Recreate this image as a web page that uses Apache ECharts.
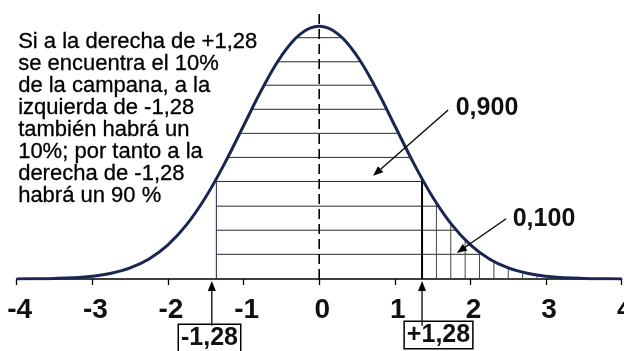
<!DOCTYPE html>
<html>
<head>
<meta charset="utf-8">
<script src="https://cdn.jsdelivr.net/npm/echarts@6/dist/echarts.min.js"></script>
<style>
  html, body { margin: 0; padding: 0; background: #fff; }
  #chart { width: 624px; height: 351px; }
</style>
</head>
<body>
<div id="chart"></div>
<script>
// bell curve
const curveX = [-4, -3.75, -3.5, -3.25, -3, -2.75, -2.5, -2.25, -2, -1.75, -1.5, -1.25, -1, -0.75, -0.5, -0.25,
  0, 0.25, 0.5, 0.75, 1, 1.25, 1.5, 1.75, 2, 2.25, 2.5, 2.75, 3, 3.25, 3.5, 3.75, 4]
const curveY = [0.0001, 0.0004, 0.0009, 0.002, 0.0044, 0.0091, 0.0175, 0.0317, 0.054, 0.0863, 0.1295, 0.1826, 0.242, 0.3011, 0.3521, 0.3867,
  0.3989, 0.3867, 0.3521, 0.3011, 0.242, 0.1826, 0.1295, 0.0863, 0.054, 0.0317, 0.0175, 0.0091, 0.0044, 0.002, 0.0009, 0.0004, 0.0001]

// where the +-1,28 marks sit on the drawn axis
const cutPos = 1.36
const cutLabels = ['-1,28', '+1,28']
const cutArrowX = [-1.42, 1.36]

// horizontal hatch (0,900 zone): level, left end, right end
const hatchLevels = [0.039, 0.077, 0.115, 0.154, 0.192, 0.23, 0.268, 0.306, 0.343, 0.381]
const hatchFrom = [-1.36, -1.36, -1.36, -1.36, -1.209, -1.05, -0.892, -0.728, -0.55, -0.303]
const hatchTo = [2.156, 1.814, 1.577, 1.38, 1.209, 1.05, 0.892, 0.728, 0.55, 0.303]

// vertical hatch in the right tail (0,100 zone)
const tailX = [1.36, 1.55, 1.74, 1.93, 2.12, 2.31, 2.5, 2.69, 2.88]
const tailTop = [0.1582, 0.12, 0.0878, 0.062, 0.0422, 0.0277, 0.0175, 0.0107, 0.0063]

const areaLabels = ['0,900', '0,100']
// arrows: [fromX, fromY, toX, toY]
const areaArrows = [[1.705, 0.267, 0.713, 0.163], [2.472, 0.095, 1.82, 0.041]]

const noteLines = [
  'Si a la derecha de +1,28',
  'se encuentra el 10%',
  'de la campana, a la',
  'izquierda de -1,28',
  'también habrá un',
  '10%; por tanto a la',
  'derecha de -1,28',
  'habrá un 90 %'
]

const NAVY = '#1b2552'
const BOLD = 'bold 25px "Liberation Sans", Arial, sans-serif'

// segments: x1, y1, x2, y2, kind (0 hatch, 1 tail, 2 cut line, 3 left edge, 4 dashed zero)
const segs = []
hatchLevels.forEach((lv, i) => segs.push([hatchFrom[i], lv, hatchTo[i], lv, 0]))
tailX.forEach((x, i) => segs.push([x, 0, x, tailTop[i], i === 0 ? 2 : 1]))
segs.push([-cutPos, 0, -cutPos, tailTop[0], 3])
segs.push([0, 0, 0, 0.42, 4])

const segStyles = [
  { stroke: '#2a2a2a', lineWidth: 1 },
  { stroke: '#444', lineWidth: 1 },
  { stroke: '#000', lineWidth: 2 },
  { stroke: NAVY, lineWidth: 1 },
  { stroke: '#000', lineWidth: 1.6, lineDash: [10, 5] }
]

const arrows = areaArrows.map(a => a.slice())
cutArrowX.forEach(x => arrows.push([x, -0.074, x, -0.003]))

function arrowItem(params, api) {
  const p1 = api.coord([api.value(0), api.value(1)])
  const p2 = api.coord([api.value(2), api.value(3)])
  const dx = p2[0] - p1[0], dy = p2[1] - p1[1]
  const len = Math.sqrt(dx * dx + dy * dy)
  const ux = dx / len, uy = dy / len
  const hl = 10, hw = 4
  const bx = p2[0] - ux * hl, by = p2[1] - uy * hl
  return {
    type: 'group',
    children: [
      { type: 'line', shape: { x1: p1[0], y1: p1[1], x2: bx, y2: by }, style: { stroke: '#000', lineWidth: 1.3 } },
      { type: 'polygon', shape: { points: [[p2[0], p2[1]], [bx - uy * hw, by + ux * hw], [bx + uy * hw, by - ux * hw]] }, style: { fill: '#000' } }
    ]
  }
}

const chart = echarts.init(document.getElementById('chart'), null, { renderer: 'canvas' })

chart.setOption({
  animation: false,
  backgroundColor: '#fff',
  grid: { left: 16.7, right: 2.3, top: 13, bottom: 72, outerBoundsMode: 'none', containLabel: false },
  xAxis: {
    type: 'value', min: -4, max: 4, interval: 1,
    axisLine: { lineStyle: { color: '#000', width: 1.5 } },
    axisTick: { show: true, length: 6, lineStyle: { color: '#000', width: 1.3 } },
    splitLine: { show: false },
    axisLabel: {
      margin: 17, color: '#111', fontSize: 28, fontWeight: 'bold',
      fontFamily: 'Liberation Sans, Arial, sans-serif', padding: [0, 0, 0, 6],
      showMaxLabel: true, showMinLabel: true, hideOverlap: false
    }
  },
  yAxis: { type: 'value', min: 0, max: 0.42, show: false },
  series: [
    {
      type: 'custom', z: 1,
      data: segs,
      renderItem: (params, api) => {
        const p1 = api.coord([api.value(0), api.value(1)])
        const p2 = api.coord([api.value(2), api.value(3)])
        return { type: 'line', shape: { x1: p1[0], y1: p1[1], x2: p2[0], y2: p2[1] }, style: segStyles[api.value(4)] }
      }
    },
    {
      type: 'line', z: 2,
      data: curveX.map((x, i) => [x, curveY[i]]),
      smooth: 0.4, showSymbol: false,
      lineStyle: { color: NAVY, width: 3 }
    },
    {
      type: 'custom', z: 3,
      data: arrows,
      renderItem: arrowItem
    }
  ],
  graphic: [
    {
      type: 'text', left: 18, top: 31,
      style: {
        text: noteLines.join('\n'), fill: '#000', lineHeight: 22,
        stroke: '#000', lineWidth: 0.3,
        font: '22px "Liberation Sans", Arial, sans-serif'
      }
    },
    {
      type: 'text', x: 487, y: 108,
      style: { text: areaLabels[0], fill: '#111', align: 'center', verticalAlign: 'middle', font: BOLD }
    },
    {
      type: 'text', x: 544, y: 219,
      style: { text: areaLabels[1], fill: '#111', align: 'center', verticalAlign: 'middle', font: BOLD }
    },
    {
      type: 'text', x: 209.5, y: 325,
      style: {
        text: cutLabels[0], fill: '#111', align: 'center', verticalAlign: 'top', font: BOLD,
        backgroundColor: '#fff', borderColor: '#000', borderWidth: 1.5, padding: [1, 2, 0, 2]
      }
    },
    {
      type: 'text', x: 438.5, y: 322,
      style: {
        text: cutLabels[1], fill: '#111', align: 'center', verticalAlign: 'top', font: BOLD,
        backgroundColor: '#fff', borderColor: '#000', borderWidth: 1.5, padding: [1, 2, 0, 2]
      }
    }
  ]
})

window.addEventListener('resize', () => chart.resize())
</script>
</body>
</html>
